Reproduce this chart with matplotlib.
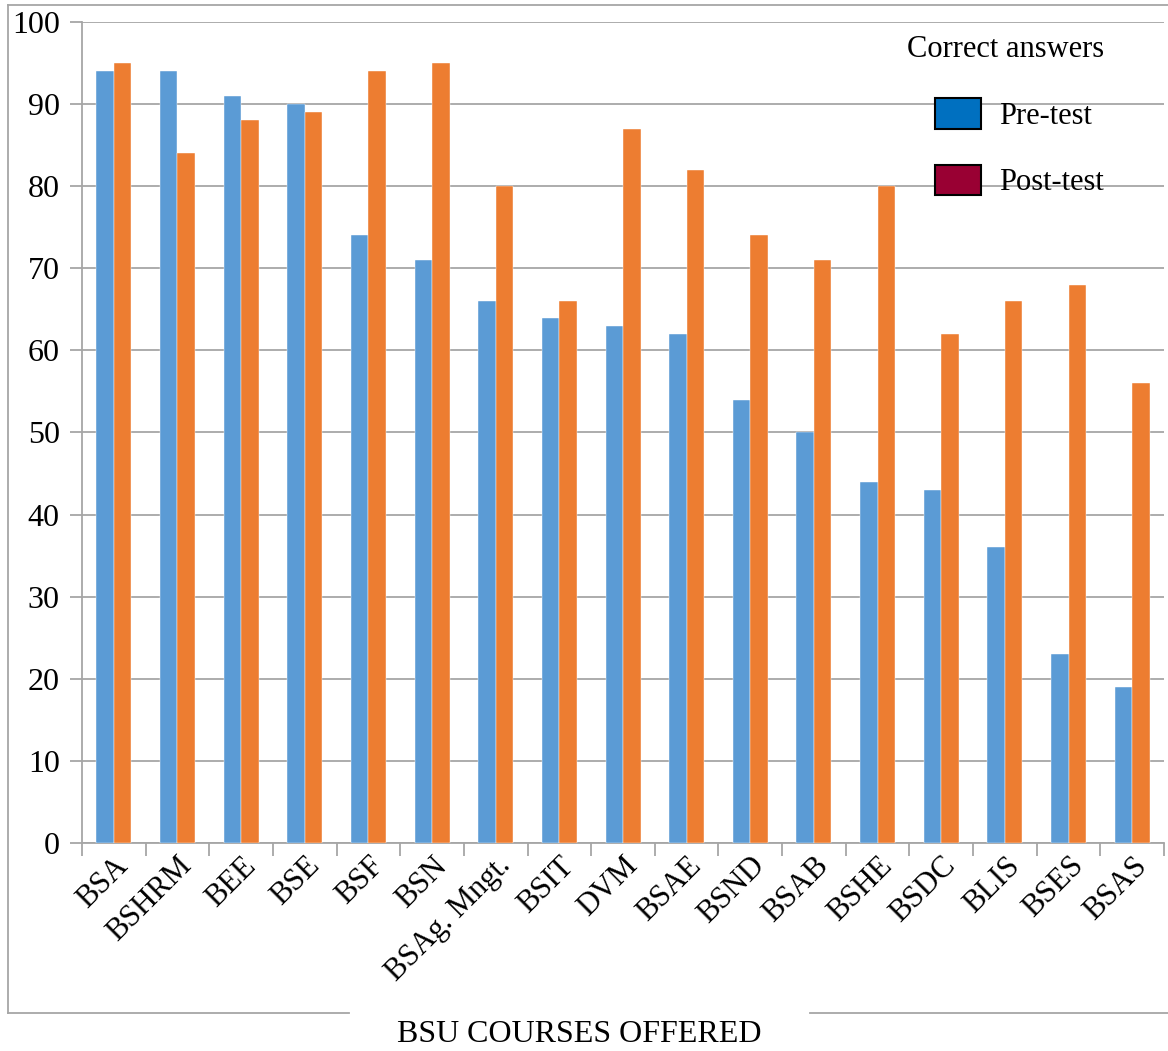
import numpy as np
import matplotlib.pyplot as plt
from matplotlib.patches import Patch
from matplotlib.lines import Line2D

plt.rcParams['font.family'] = ['Liberation Serif', 'DejaVu Serif']

# Course codes and share of correct answers (%)
courses = ['BSA', 'BSHRM', 'BEE', 'BSE', 'BSF', 'BSN', 'BSAg. Mngt.', 'BSIT', 'DVM',
           'BSAE', 'BSND', 'BSAB', 'BSHE', 'BSDC', 'BLIS', 'BSES', 'BSAS']
pre_test = [94, 94, 91, 90, 74, 71, 66, 64, 63, 62, 54, 50, 44, 43, 36, 23, 19]
post_test = [95, 84, 88, 89, 94, 95, 80, 66, 87, 82, 74, 71, 80, 62, 66, 68, 56]

fig = plt.figure(figsize=(11.68, 10.51), dpi=100)
ax = fig.add_axes([0.0702, 0.1979, 0.9264, 0.7812])

x = np.arange(len(courses))
w = 0.275
ax.bar(x - w / 2, pre_test, w, color='#5B9BD5', edgecolor='#ffffff', linewidth=0.3, zorder=3)
ax.bar(x + w / 2, post_test, w, color='#ED7D31', edgecolor='#ffffff', linewidth=0.3, zorder=3)

ax.set_xlim(-0.5, len(courses) - 0.5)
ax.set_ylim(0, 100)
ax.set_yticks(range(0, 101, 10))
ax.yaxis.grid(True, color='#A6A6A6', linewidth=1.3, zorder=0)

# category labels sit between boundary ticks
ax.set_xticks(x)
ax.set_xticklabels(courses, rotation=45, ha='right', rotation_mode='anchor', fontsize=22)
ax.set_xticks(np.arange(len(courses) + 1) - 0.5, minor=True)
ax.tick_params(axis='x', which='major', length=0, pad=6)
ax.tick_params(axis='x', which='minor', length=9, width=1.3, color='#A6A6A6')
ax.tick_params(axis='y', length=9, width=1.3, color='#A6A6A6', labelsize=23, pad=7)

for side in ['top', 'right']:
    ax.spines[side].set_visible(False)
for side in ['left', 'bottom']:
    ax.spines[side].set_color('#A6A6A6')
    ax.spines[side].set_linewidth(1.3)

handles = [Patch(facecolor='#0070C0', edgecolor='black', linewidth=1.5),
           Patch(facecolor='#990033', edgecolor='black', linewidth=1.5)]
leg = ax.legend(handles, ['Pre-test', 'Post-test'], title='Correct answers',
                loc='upper right', bbox_to_anchor=(0.956, 0.999), frameon=False,
                fontsize=22, title_fontsize=22, handlelength=1.5, handleheight=1.15,
                labelspacing=1.12, handletextpad=0.6, borderaxespad=0.0)
leg._legend_box.align = 'right'

fig.text(0.496, 1 - 1035 / 1051, 'BSU COURSES OFFERED', ha='center', va='center', fontsize=23)

# outer frame, broken where the axis title sits
W, H = 1168, 1051
frame_kw = dict(color='#A6A6A6', linewidth=1.3, transform=fig.transFigure)
fig.add_artist(Line2D([8 / W, 8 / W], [1 - 5 / H, 1 - 1013 / H], **frame_kw))
fig.add_artist(Line2D([8 / W, 1.0], [1 - 5 / H, 1 - 5 / H], **frame_kw))
fig.add_artist(Line2D([8 / W, 349 / W], [1 - 1013 / H, 1 - 1013 / H], **frame_kw))
fig.add_artist(Line2D([810 / W, 1.0], [1 - 1013 / H, 1 - 1013 / H], **frame_kw))

fig.savefig('out.png', dpi=100)
